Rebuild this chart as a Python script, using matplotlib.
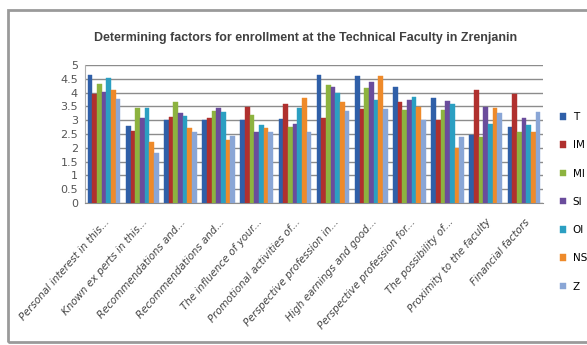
import matplotlib
matplotlib.use("Agg")
import matplotlib.pyplot as plt
import numpy as np
from matplotlib.patches import Rectangle

# categories (as truncated in the source chart)
categories = [
    "Personal interest in this...",
    "Known ex perts in this...",
    "Recommendations and...",
    "Recommendations and...",
    "The influence of your...",
    "Promotional activities of...",
    "Perspective profession in...",
    "High earnings and good...",
    "Perspective profession for...",
    "The possibility of...",
    "Proximity to the faculty",
    "Financial factors",
]

series_names = ["T", "IM", "MI", "SI", "OI", "NS", "Z"]

T  = [4.64, 2.80, 3.00, 3.02, 3.00, 3.04, 4.64, 4.61, 4.21, 3.79, 2.46, 2.76]
IM = [3.94, 2.61, 3.12, 3.08, 3.47, 3.58, 3.07, 3.39, 3.67, 3.00, 4.09, 3.94]
MI = [4.30, 3.45, 3.65, 3.33, 3.19, 2.76, 4.28, 4.15, 3.37, 3.37, 2.40, 2.56]
SI = [4.03, 3.07, 3.25, 3.43, 2.58, 2.86, 4.21, 4.40, 3.73, 3.71, 3.49, 3.07]
OI = [4.52, 3.45, 3.15, 3.28, 2.83, 3.43, 4.00, 3.73, 3.84, 3.59, 2.85, 2.83]
NS = [4.09, 2.20, 2.73, 2.27, 2.70, 3.79, 3.65, 4.61, 3.49, 1.98, 3.43, 2.58]
Z  = [3.76, 1.80, 2.58, 2.41, 2.58, 2.56, 3.33, 3.40, 3.00, 2.40, 3.25, 3.29]

colors = ["#2f5fa8", "#b0302e", "#8db33f", "#6a4c9c", "#2b9fc2", "#ee8a2a", "#8aa6d6"]

##################################################
fig = plt.figure(figsize=(5.87, 3.45), dpi=100)

# outer chart frame
fig.patches.append(Rectangle((8/587, 3/345), 600/587, 332/345, transform=fig.transFigure,
                             fill=False, edgecolor="#9a9a9a", linewidth=2))

ax = fig.add_axes([85/587, 1 - 203/345, 458/587, 138/345])

data = [T, IM, MI, SI, OI, NS, Z]
n = len(series_names)
x = np.arange(len(categories))
bw = 0.86 / n
for i, (vals, c, name) in enumerate(zip(data, colors, series_names)):
    ax.bar(x - 0.43 + bw * (i + 0.5), vals, width=bw, color=c, edgecolor=c,
           linewidth=0.3, label=name, zorder=3)

ax.set_xlim(-0.5, len(categories) - 0.5)
ax.set_ylim(0, 5)
yt = np.arange(0, 5.01, 0.5)
ax.set_yticks(yt)
ax.set_yticklabels(["%g" % v for v in yt], fontsize=8, color="#555555")
ax.yaxis.grid(True, color="#8c8c8c", linewidth=1.0, zorder=0)
ax.tick_params(axis="y", length=0, pad=5)
ax.tick_params(axis="x", length=0, pad=10)
ax.set_xticks(x)
ax.set_xticklabels(categories, rotation=49, ha="right", rotation_mode="anchor",
                   fontsize=7.4, style="italic", color="#444444")
for s in ["top", "right"]:
    ax.spines[s].set_visible(False)
ax.spines["left"].set_color("#b0b0b0")
ax.spines["bottom"].set_color("#8c8c8c")

fig.text(306/587, 1 - 38/345, "Determining factors for enrollment at the Technical Faculty in Zrenjanin",
         ha="center", va="center", fontsize=8.9, fontweight="bold", color="#404040",
         family="Liberation Sans")

h, l = ax.get_legend_handles_labels()
fig.legend(h, l, loc="upper left", bbox_to_anchor=(556/587, 1 - 108/345), frameon=False,
           fontsize=7.5, handlelength=0.6, handleheight=0.6, labelspacing=1.75,
           handletextpad=0.6, borderaxespad=0)

plt.savefig("out.png", dpi=100)
plt.close()
